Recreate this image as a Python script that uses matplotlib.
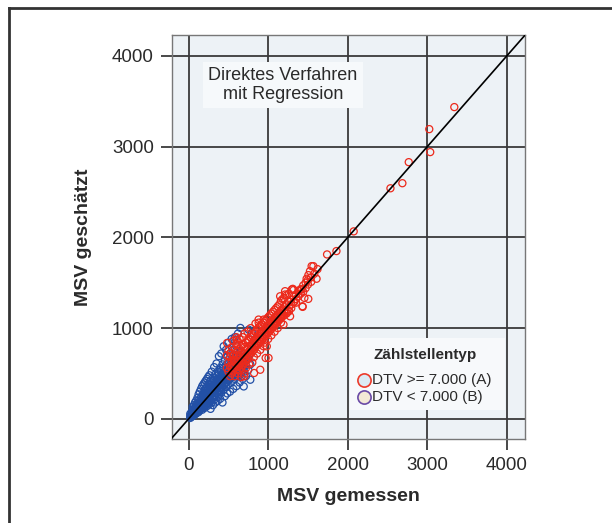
import matplotlib
matplotlib.use("Agg")
import matplotlib.pyplot as plt
from matplotlib.lines import Line2D
from matplotlib.patches import Rectangle

plt.rcParams['font.family'] = ['Liberation Sans', 'DejaVu Sans']

# Zählstellen mit DTV >= 7.000 (A): (MSV gemessen, MSV geschätzt)
punkte_a = [
    (3340, 3436), (3025, 3193), (3037, 2940), (2767, 2829), (2687, 2597), (2537, 2541),
    (2075, 2066), (1858, 1849), (1740, 1812), (1546, 1683), (1525, 1628), (1608, 1544),
    (1483, 1544), (1296, 1425), (1421, 1425), (1504, 1322), (1433, 1234), (1325, 1285),
    (1212, 1370), (1233, 1168), (1108, 1113), (942, 1094), (962, 983), (1192, 1039),
    (1568, 1683), (1505, 1584), (1407, 1425), (1309, 1433), (1455, 1333), (1431, 1241),
    (1260, 1186), (1153, 1113), (982, 799), (968, 671), (602, 873), (483, 836),
    (577, 633), (700, 468), (822, 505), (629, 578), (567, 652), (525, 726), (879, 1094),
    (1150, 1351), (1212, 1407), (1004, 671), (900, 541), (1275, 1130),
    (480, 560), (480, 700), (500, 620), (500, 520), (500, 760), (520, 580), (520, 680),
    (520, 470), (540, 640), (540, 560), (540, 790), (540, 500), (560, 600), (560, 700),
    (560, 520), (560, 860), (580, 650), (580, 560), (580, 760), (580, 470), (600, 620),
    (600, 700), (600, 540), (600, 820), (600, 900), (620, 660), (620, 580), (620, 740),
    (620, 500), (620, 850), (640, 690), (640, 610), (640, 770), (640, 540), (640, 880),
    (660, 700), (660, 630), (660, 800), (660, 560), (660, 460), (680, 730), (680, 650),
    (680, 820), (680, 590), (680, 900), (700, 720), (700, 680), (700, 790), (700, 610),
    (700, 500), (700, 940), (720, 760), (720, 690), (720, 840), (720, 640), (720, 560),
    (740, 770), (740, 720), (740, 860), (740, 660), (740, 960), (760, 800), (760, 740),
    (760, 870), (760, 690), (760, 600), (780, 810), (780, 760), (780, 900), (780, 720),
    (780, 1000), (800, 830), (800, 780), (800, 910), (800, 740), (800, 620), (820, 860),
    (820, 800), (820, 940), (820, 760), (820, 680), (840, 870), (840, 820), (840, 960),
    (840, 790), (840, 1050), (860, 900), (860, 840), (860, 980), (860, 810), (860, 720),
    (880, 910), (880, 860), (880, 1010), (880, 830), (880, 1060), (900, 940), (900, 880),
    (900, 1020), (900, 850), (900, 760), (920, 950), (920, 900), (920, 1040), (920, 870),
    (940, 980), (940, 920), (940, 1060), (940, 890), (940, 800), (960, 990), (960, 940),
    (960, 1080), (960, 910), (960, 840), (980, 1020), (980, 960), (980, 1100), (980, 930),
    (1000, 1030), (1000, 980), (1000, 1120), (1000, 950), (1000, 880), (1020, 1050),
    (1020, 1000), (1020, 1140), (1020, 970), (1040, 1070), (1040, 1020), (1040, 1160),
    (1040, 990), (1040, 920), (1060, 1090), (1060, 1040), (1060, 1180), (1060, 1010),
    (1080, 1110), (1080, 1060), (1080, 1200), (1080, 1030), (1080, 960), (1100, 1130),
    (1100, 1080), (1100, 1220), (1100, 1050), (1120, 1150), (1120, 1100), (1120, 1240),
    (1120, 1070), (1120, 1000), (1140, 1170), (1140, 1120), (1140, 1260), (1140, 1090),
    (1160, 1190), (1160, 1140), (1160, 1300), (1160, 1110), (1160, 1060), (1180, 1210),
    (1180, 1160), (1180, 1320), (1180, 1130), (1200, 1230), (1200, 1180), (1200, 1330),
    (1200, 1140), (1230, 1250), (1230, 1200), (1230, 1360), (1230, 1160), (1260, 1290),
    (1260, 1230), (1260, 1380), (1260, 1190), (1290, 1310), (1290, 1260), (1290, 1220),
    (1320, 1350), (1320, 1290), (1320, 1420), (1350, 1370), (1350, 1320), (1350, 1280),
    (1380, 1410), (1380, 1350), (1410, 1430), (1410, 1380), (1440, 1470), (1440, 1400),
    (1470, 1500), (1470, 1440), (1500, 1530), (1500, 1480), (1540, 1560), (1540, 1510),
    (1580, 1600), (1620, 1650),
]

# Zählstellen mit DTV < 7.000 (B): (MSV gemessen, MSV geschätzt)
punkte_b = [
    (20, 30), (20, 10), (20, 55), (35, 40), (35, 70), (35, 22), (50, 95), (50, 55),
    (50, 30), (50, 130), (65, 60), (65, 110), (65, 40), (65, 150), (80, 75), (80, 125),
    (80, 50), (80, 180), (80, 95), (95, 140), (95, 85), (95, 60), (95, 200), (95, 110),
    (110, 100), (110, 165), (110, 70), (110, 230), (110, 130), (125, 150), (125, 90),
    (125, 200), (125, 120), (125, 270), (125, 75), (140, 120), (140, 185), (140, 95),
    (140, 300), (140, 160), (140, 140), (155, 170), (155, 110), (155, 240), (155, 145),
    (155, 330), (155, 200), (170, 150), (170, 220), (170, 100), (170, 190), (170, 360),
    (170, 260), (185, 200), (185, 130), (185, 280), (185, 175), (185, 240), (185, 380),
    (200, 180), (200, 250), (200, 120), (200, 310), (200, 220), (200, 400), (200, 160),
    (215, 230), (215, 150), (215, 290), (215, 200), (215, 420), (215, 260), (215, 340),
    (230, 210), (230, 280), (230, 140), (230, 350), (230, 250), (230, 440), (230, 190),
    (245, 260), (245, 175), (245, 320), (245, 230), (245, 460), (245, 290), (245, 380),
    (260, 240), (260, 310), (260, 160), (260, 370), (260, 280), (260, 480), (260, 210),
    (275, 290), (275, 200), (275, 350), (275, 260), (275, 420), (275, 110), (275, 320),
    (290, 270), (290, 340), (290, 180), (290, 400), (290, 310), (290, 520), (290, 230),
    (305, 320), (305, 230), (305, 380), (305, 290), (305, 450), (305, 150), (305, 350),
    (320, 300), (320, 370), (320, 210), (320, 430), (320, 340), (320, 570), (320, 260),
    (335, 350), (335, 260), (335, 410), (335, 320), (335, 490), (335, 180), (335, 380),
    (350, 330), (350, 400), (350, 240), (350, 470), (350, 370), (350, 610), (350, 290),
    (365, 380), (365, 290), (365, 440), (365, 350), (365, 520), (365, 200), (365, 410),
    (380, 360), (380, 430), (380, 260), (380, 500), (380, 400), (380, 690), (380, 310),
    (395, 410), (395, 320), (395, 470), (395, 380), (395, 560), (395, 220), (395, 440),
    (410, 390), (410, 460), (410, 290), (410, 530), (410, 430), (410, 720), (410, 340),
    (425, 440), (425, 350), (425, 500), (425, 410), (425, 600), (425, 180), (425, 470),
    (440, 420), (440, 490), (440, 320), (440, 560), (440, 460), (440, 800), (440, 370),
    (455, 470), (455, 380), (455, 530), (455, 440), (455, 640), (455, 250), (455, 500),
    (470, 450), (470, 520), (470, 350), (470, 590), (470, 490), (470, 760), (470, 400),
    (485, 500), (485, 410), (485, 560), (485, 470), (485, 680), (485, 280), (485, 530),
    (500, 480), (500, 550), (500, 380), (500, 620), (500, 520), (500, 840), (500, 430),
    (520, 530), (520, 440), (520, 590), (520, 500), (520, 720), (520, 300), (520, 560),
    (540, 510), (540, 580), (540, 410), (540, 650), (540, 550), (540, 880), (540, 460),
    (560, 560), (560, 470), (560, 620), (560, 530), (560, 760), (560, 330),
    (580, 540), (580, 610), (580, 440), (580, 680), (580, 580), (580, 900), (580, 490),
    (600, 590), (600, 500), (600, 650), (600, 560), (600, 800), (600, 360),
    (620, 570), (620, 640), (620, 470), (620, 710), (620, 520), (620, 940),
    (640, 620), (640, 530), (640, 680), (640, 590), (640, 400), (660, 600), (660, 670),
    (660, 500), (660, 740), (650, 1002), (680, 650), (680, 560), (680, 710), (680, 440),
    (700, 630), (700, 690), (700, 520), (754, 983), (720, 680), (720, 590), (720, 470),
    (750, 660), (750, 540), (796, 947), (775, 720), (775, 431), (775, 600), (692, 357),
]

tick_vals = [0, 1000, 2000, 3000, 4000]
lo_x, hi_x = -210, 4230
lo_y, hi_y = -220, 4230
farbe_a = '#ec2a1c'
farbe_b = '#2250a6'

xa, ya = zip(*punkte_a)
xb, yb = zip(*punkte_b)

fig = plt.figure(figsize=(6.12, 5.23), dpi=100)
ax = fig.add_axes([0.281, 0.161, 0.577, 0.772])
ax.set_facecolor('#edf2f6')

ax.scatter(xb, yb, s=26, facecolors='none', edgecolors=farbe_b, linewidths=0.9, zorder=3)
ax.scatter(xa, ya, s=26, facecolors='none', edgecolors=farbe_a, linewidths=0.9, zorder=4)

# 1:1 line across the whole panel
ax.plot([-300, 4400], [-300, 4400], color='black', lw=1.2, zorder=5)

ax.set_xlim(lo_x, hi_x)
ax.set_ylim(lo_y, hi_y)
ax.set_xticks(tick_vals)
ax.set_yticks(tick_vals)
ax.grid(True, color='#3a3a3a', lw=1.3, zorder=1)
ax.set_axisbelow(True)
ax.tick_params(direction='out', length=8, width=1.3, color='#3a3a3a',
               labelsize=13.5, labelcolor='#2a2a2a', pad=5)
for sp in ax.spines.values():
    sp.set_color('#777777')
    sp.set_linewidth(1.0)

ax.set_xlabel('MSV gemessen', fontsize=14, fontweight='bold', color='#2a2a2a',
              labelpad=10)
ax.set_ylabel('MSV geschätzt', fontsize=14, fontweight='bold', color='#2a2a2a',
              labelpad=14)

ax.text(0.314, 0.876, 'Direktes Verfahren\nmit Regression', transform=ax.transAxes,
        ha='center', va='center', fontsize=13, color='#2a2a2a', linespacing=1.1,
        zorder=6, bbox=dict(facecolor='#f6f9fb', edgecolor='none', pad=4))


def ax_frac(px, py):
    """Pixel position in the figure -> axes fraction."""
    return (px - 172) / 353, (439 - py) / 404


# legend panel: light box, title, two ring symbols with labels
bx0, by0 = ax_frac(350, 410)
bx1, by1 = ax_frac(505, 338)
ax.add_patch(Rectangle((bx0, by0), bx1 - bx0, by1 - by0, transform=ax.transAxes,
                       facecolor='#f7f9fb', edgecolor='none', zorder=6))
tx, ty = ax_frac(425, 355)
ax.text(tx, ty, 'Zählstellentyp', transform=ax.transAxes, ha='center', va='center',
        fontsize=11, fontweight='bold', color='#2a2a2a', zorder=7)
eintraege = [('DTV >= 7.000 (A)', '#ec3a2a', '#dcebf4', 380),
             ('DTV < 7.000 (B)', '#6a4aa6', '#f3e9d6', 397)]
for label, rand, fuell, py in eintraege:
    mx, my = ax_frac(364, py)
    ax.plot([mx], [my], transform=ax.transAxes, marker='o', ls='none', markersize=9.5,
            markerfacecolor=fuell, markeredgecolor=rand, markeredgewidth=1.2,
            zorder=7, clip_on=False)
    lx, ly = ax_frac(372, py)
    ax.text(lx, ly, label, transform=ax.transAxes, ha='left', va='center',
            fontsize=11, color='#2a2a2a', zorder=7)

# page frame on the left and top edges
fig.add_artist(Line2D([9 / 612, 9 / 612], [0, 1 - 8 / 523], transform=fig.transFigure,
                      color='#333333', lw=2))
fig.add_artist(Line2D([9 / 612, 1], [1 - 8 / 523, 1 - 8 / 523], transform=fig.transFigure,
                      color='#333333', lw=2))

fig.savefig('out.png', dpi=100, facecolor='white')
